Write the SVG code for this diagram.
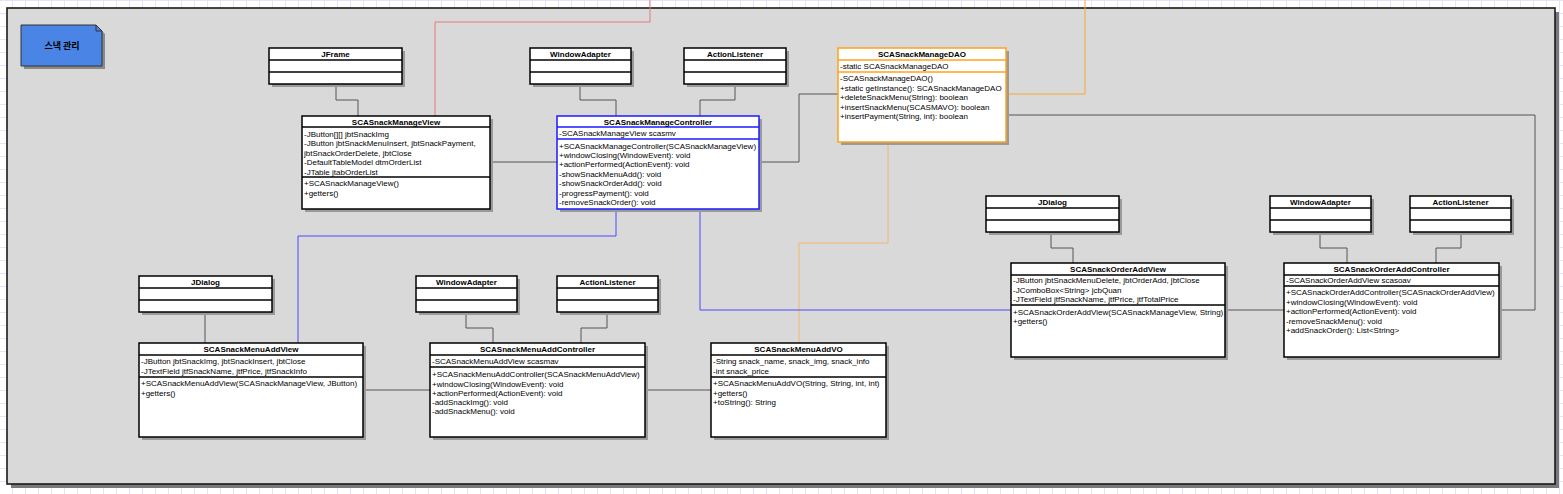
<svg xmlns="http://www.w3.org/2000/svg" width="1563" height="494" viewBox="0 0 1563 494">
<defs>
<pattern id="grid" width="13" height="13" patternUnits="userSpaceOnUse" x="12" y="0">
<rect width="13" height="13" fill="#ffffff"/>
<path d="M0,0.5 H13 M0.5,0 V13" stroke="#e4e4f8" stroke-width="1" fill="none"/>
</pattern>
<style>
.box{fill:#ffffff;stroke:#000000;stroke-width:1.5}
.shd{fill:#9a9a9a}
.dv{stroke:#000000;stroke-width:1.5}
.blue .box{stroke:#1a1aff}
.blue .dv{stroke:#1a1aff}
.orange .box{stroke:#ffa31a}
.orange .dv{stroke:#ffa31a}
.t{font-family:"Liberation Sans",Arial,sans-serif;font-size:8px;fill:#000000}
.h{font-family:"Liberation Sans",Arial,sans-serif;font-size:8px;font-weight:bold;fill:#000000;text-anchor:middle}
.c{fill:none;stroke:#555555;stroke-width:1}
.cr{fill:none;stroke:#e87a7a;stroke-width:1}
.cb{fill:none;stroke:#4b4bff;stroke-width:1}
.co{fill:none;stroke:#f5a833;stroke-width:1}
.col{fill:none;stroke:#f2b66a;stroke-width:1}
</style>
</defs>
<rect width="1563" height="494" fill="url(#grid)"/>
<g id="container">
<rect x="11" y="12" width="1548" height="476" fill="#7a7a7a"/>
<rect x="7" y="8" width="1548" height="476" fill="#d9d9d9" stroke="#1a1a1a" stroke-width="1.6"/>
</g>
<g id="note">
<path d="M24,28 H99 L105,34 V69 H24 Z" fill="#8a8a8a"/>
<path d="M21,25 H96 L102,31 V66 H21 Z" fill="#4a84e4" stroke="#333333" stroke-width="1"/>
<path d="M96,25 V31 H102" fill="none" stroke="#333333" stroke-width="1"/>
<text x="62" y="49" font-family="'Noto Sans CJK KR','Noto Sans',sans-serif" font-size="9" font-weight="bold" text-anchor="middle" fill="#000000">스낵 관리</text>
</g>
<g id="connectors">
<path class="c" d="M336,84 V100 H358 V116"/>
<path class="cr" d="M435,116 V22 H650 V0"/>
<path class="c" d="M490,162 H557"/>
<path class="c" d="M580,84 V100 H616 V116"/>
<path class="c" d="M735,84 V100 H700 V116"/>
<path class="c" d="M759,162 H799 V94 H839"/>
<path class="co" d="M1007,94 H1085 V0"/>
<path class="c" d="M1007,115 H1535 V310 H1499"/>
<path class="col" d="M888,142 V243 H799 V343"/>
<path class="cb" d="M616,209 V236 H298 V343"/>
<path class="cb" d="M700,209 V310 H1011"/>
<path class="c" d="M205,312 V343"/>
<path class="c" d="M363,390 H430"/>
<path class="c" d="M466,312 V328 H493 V343"/>
<path class="c" d="M607,312 V328 H581 V343"/>
<path class="c" d="M645,390 H711"/>
<path class="c" d="M1051,232 V248 H1073 V263"/>
<path class="c" d="M1320,232 V248 H1347 V263"/>
<path class="c" d="M1461,232 V248 H1436 V263"/>
<path class="c" d="M1225,310 H1284"/>
</g>
<g id="JFrame">
<rect class="shd" x="272" y="51" width="133" height="36"/>
<rect class="box" x="269" y="48" width="133" height="36"/>
<line class="dv" x1="269" y1="60" x2="402" y2="60"/>
<line class="dv" x1="269" y1="72" x2="402" y2="72"/>
<text class="h" x="335.5" y="57">JFrame</text>
</g>
<g id="SCASnackManageView">
<rect class="shd" x="305" y="119" width="188" height="93"/>
<rect class="box" x="302" y="116" width="188" height="93"/>
<line class="dv" x1="302" y1="127" x2="490" y2="127"/>
<line class="dv" x1="302" y1="177" x2="490" y2="177"/>
<text class="h" x="396" y="124.5">SCASnackManageView</text>
<text class="t" x="304" y="136.5">-JButton[][] jbtSnackImg</text>
<text class="t" x="304" y="146">-JButton jbtSnackMenuInsert, jbtSnackPayment,</text>
<text class="t" x="304" y="155.5">jbtSnackOrderDelete, jbtClose</text>
<text class="t" x="304" y="165">-DefaultTableModel dtmOrderList</text>
<text class="t" x="304" y="174.5">-JTable jtabOrderList</text>
<text class="t" x="304" y="186">+SCASnackManageView()</text>
<text class="t" x="304" y="196">+getters()</text>
</g>
<g id="WindowAdapter1">
<rect class="shd" x="533" y="51" width="101" height="36"/>
<rect class="box" x="530" y="48" width="101" height="36"/>
<line class="dv" x1="530" y1="60" x2="631" y2="60"/>
<line class="dv" x1="530" y1="72" x2="631" y2="72"/>
<text class="h" x="580.5" y="57">WindowAdapter</text>
</g>
<g id="ActionListener1">
<rect class="shd" x="687" y="51" width="102" height="36"/>
<rect class="box" x="684" y="48" width="102" height="36"/>
<line class="dv" x1="684" y1="60" x2="786" y2="60"/>
<line class="dv" x1="684" y1="72" x2="786" y2="72"/>
<text class="h" x="735" y="57">ActionListener</text>
</g>
<g id="SCASnackManageController" class="blue">
<rect class="shd" x="560" y="119" width="202" height="93"/>
<rect class="box" x="557" y="116" width="202" height="93"/>
<line class="dv" x1="557" y1="127" x2="759" y2="127"/>
<line class="dv" x1="557" y1="139" x2="759" y2="139"/>
<text class="h" x="658" y="124.5">SCASnackManageController</text>
<text class="t" x="559" y="136">-SCASnackManageView scasmv</text>
<text class="t" x="559" y="148.5">+SCASnackManageController(SCASnackManageView)</text>
<text class="t" x="559" y="158">+windowClosing(WindowEvent): void</text>
<text class="t" x="559" y="167">+actionPerformed(ActionEvent): void</text>
<text class="t" x="559" y="176.5">-showSnackMenuAdd(): void</text>
<text class="t" x="559" y="186">-showSnackOrderAdd(): void</text>
<text class="t" x="559" y="195.5">-progressPayment(): void</text>
<text class="t" x="559" y="205">-removeSnackOrder(): void</text>
</g>
<g id="SCASnackManageDAO" class="orange">
<rect class="shd" x="841" y="51" width="168" height="94"/>
<rect class="box" x="838" y="48" width="168" height="94"/>
<line class="dv" x1="838" y1="60" x2="1006" y2="60"/>
<line class="dv" x1="838" y1="72" x2="1006" y2="72"/>
<text class="h" x="922" y="57">SCASnackManageDAO</text>
<text class="t" x="840" y="69">-static SCASnackManageDAO</text>
<text class="t" x="840" y="80.5">-SCASnackManageDAO()</text>
<text class="t" x="840" y="90.5">+static getInstance(): SCASnackManageDAO</text>
<text class="t" x="840" y="100">+deleteSnackMenu(String): boolean</text>
<text class="t" x="840" y="109.5">+insertSnackMenu(SCASMAVO): boolean</text>
<text class="t" x="840" y="119">+insertPayment(String, int): boolean</text>
</g>
<g id="JDialog2">
<rect class="shd" x="989" y="199" width="133" height="36"/>
<rect class="box" x="986" y="196" width="133" height="36"/>
<line class="dv" x1="986" y1="208" x2="1119" y2="208"/>
<line class="dv" x1="986" y1="220" x2="1119" y2="220"/>
<text class="h" x="1052.5" y="205">JDialog</text>
</g>
<g id="SCASnackOrderAddView">
<rect class="shd" x="1014" y="266" width="214" height="94"/>
<rect class="box" x="1011" y="263" width="214" height="94"/>
<line class="dv" x1="1011" y1="275" x2="1225" y2="275"/>
<line class="dv" x1="1011" y1="305" x2="1225" y2="305"/>
<text class="h" x="1118" y="272">SCASnackOrderAddView</text>
<text class="t" x="1013" y="283">-JButton jbtSnackMenuDelete, jbtOrderAdd, jbtClose</text>
<text class="t" x="1013" y="292.5">-JComboBox&lt;String&gt; jcbQuan</text>
<text class="t" x="1013" y="302">-JTextField jtfSnackName, jtfPrice, jtfTotalPrice</text>
<text class="t" x="1013" y="314.5">+SCASnackOrderAddView(SCASnackManageView, String)</text>
<text class="t" x="1013" y="324">+getters()</text>
</g>
<g id="WindowAdapter2">
<rect class="shd" x="1273" y="199" width="101" height="36"/>
<rect class="box" x="1270" y="196" width="101" height="36"/>
<line class="dv" x1="1270" y1="208" x2="1371" y2="208"/>
<line class="dv" x1="1270" y1="220" x2="1371" y2="220"/>
<text class="h" x="1320.5" y="205">WindowAdapter</text>
</g>
<g id="ActionListener2">
<rect class="shd" x="1413" y="199" width="101" height="36"/>
<rect class="box" x="1410" y="196" width="101" height="36"/>
<line class="dv" x1="1410" y1="208" x2="1511" y2="208"/>
<line class="dv" x1="1410" y1="220" x2="1511" y2="220"/>
<text class="h" x="1460.5" y="205">ActionListener</text>
</g>
<g id="SCASnackOrderAddController">
<rect class="shd" x="1287" y="266" width="215" height="94"/>
<rect class="box" x="1284" y="263" width="215" height="94"/>
<line class="dv" x1="1284" y1="275" x2="1499" y2="275"/>
<line class="dv" x1="1284" y1="286" x2="1499" y2="286"/>
<text class="h" x="1391.5" y="272">SCASnackOrderAddController</text>
<text class="t" x="1286" y="283">-SCASnackOrderAddView scasoav</text>
<text class="t" x="1286" y="295">+SCASnackOrderAddController(SCASnackOrderAddView)</text>
<text class="t" x="1286" y="305">+windowClosing(WindowEvent): void</text>
<text class="t" x="1286" y="314">+actionPerformed(ActionEvent): void</text>
<text class="t" x="1286" y="324">-removeSnackMenu(): void</text>
<text class="t" x="1286" y="333">+addSnackOrder(): List&lt;String&gt;</text>
</g>
<g id="JDialog1">
<rect class="shd" x="142" y="279" width="133" height="36"/>
<rect class="box" x="139" y="276" width="133" height="36"/>
<line class="dv" x1="139" y1="288" x2="272" y2="288"/>
<line class="dv" x1="139" y1="300" x2="272" y2="300"/>
<text class="h" x="205.5" y="285">JDialog</text>
</g>
<g id="SCASnackMenuAddView">
<rect class="shd" x="142" y="346" width="224" height="94"/>
<rect class="box" x="139" y="343" width="224" height="94"/>
<line class="dv" x1="139" y1="355" x2="363" y2="355"/>
<line class="dv" x1="139" y1="377" x2="363" y2="377"/>
<text class="h" x="251" y="352">SCASnackMenuAddView</text>
<text class="t" x="141" y="364">-JButton jbtSnackImg, jbtSnackInsert, jbtClose</text>
<text class="t" x="141" y="374">-JTextField jtfSnackName, jtfPrice, jtfSnackInfo</text>
<text class="t" x="141" y="385.5">+SCASnackMenuAddView(SCASnackManageView, JButton)</text>
<text class="t" x="141" y="395.5">+getters()</text>
</g>
<g id="WindowAdapter3">
<rect class="shd" x="419" y="279" width="101" height="36"/>
<rect class="box" x="416" y="276" width="101" height="36"/>
<line class="dv" x1="416" y1="288" x2="517" y2="288"/>
<line class="dv" x1="416" y1="300" x2="517" y2="300"/>
<text class="h" x="466.5" y="285">WindowAdapter</text>
</g>
<g id="ActionListener3">
<rect class="shd" x="560" y="279" width="101" height="36"/>
<rect class="box" x="557" y="276" width="101" height="36"/>
<line class="dv" x1="557" y1="288" x2="658" y2="288"/>
<line class="dv" x1="557" y1="300" x2="658" y2="300"/>
<text class="h" x="607.5" y="285">ActionListener</text>
</g>
<g id="SCASnackMenuAddController">
<rect class="shd" x="433" y="346" width="215" height="94"/>
<rect class="box" x="430" y="343" width="215" height="94"/>
<line class="dv" x1="430" y1="355" x2="645" y2="355"/>
<line class="dv" x1="430" y1="367" x2="645" y2="367"/>
<text class="h" x="537.5" y="352">SCASnackMenuAddController</text>
<text class="t" x="432" y="364">-SCASnackMenuAddView scasmav</text>
<text class="t" x="432" y="376.5">+SCASnackMenuAddController(SCASnackMenuAddView)</text>
<text class="t" x="432" y="386.5">+windowClosing(WindowEvent): void</text>
<text class="t" x="432" y="395.5">+actionPerformed(ActionEvent): void</text>
<text class="t" x="432" y="405">-addSnackImg(): void</text>
<text class="t" x="432" y="414">-addSnackMenu(): void</text>
</g>
<g id="SCASnackMenuAddVO">
<rect class="shd" x="714" y="346" width="175" height="94"/>
<rect class="box" x="711" y="343" width="175" height="94"/>
<line class="dv" x1="711" y1="355" x2="886" y2="355"/>
<line class="dv" x1="711" y1="377" x2="886" y2="377"/>
<text class="h" x="798.5" y="352">SCASnackMenuAddVO</text>
<text class="t" x="713" y="364">-String snack_name, snack_img, snack_info</text>
<text class="t" x="713" y="374">-int snack_price</text>
<text class="t" x="713" y="385.5">+SCASnackMenuAddVO(String, String, int, int)</text>
<text class="t" x="713" y="395.5">+getters()</text>
<text class="t" x="713" y="404.5">+toString(): String</text>
</g>
</svg>
